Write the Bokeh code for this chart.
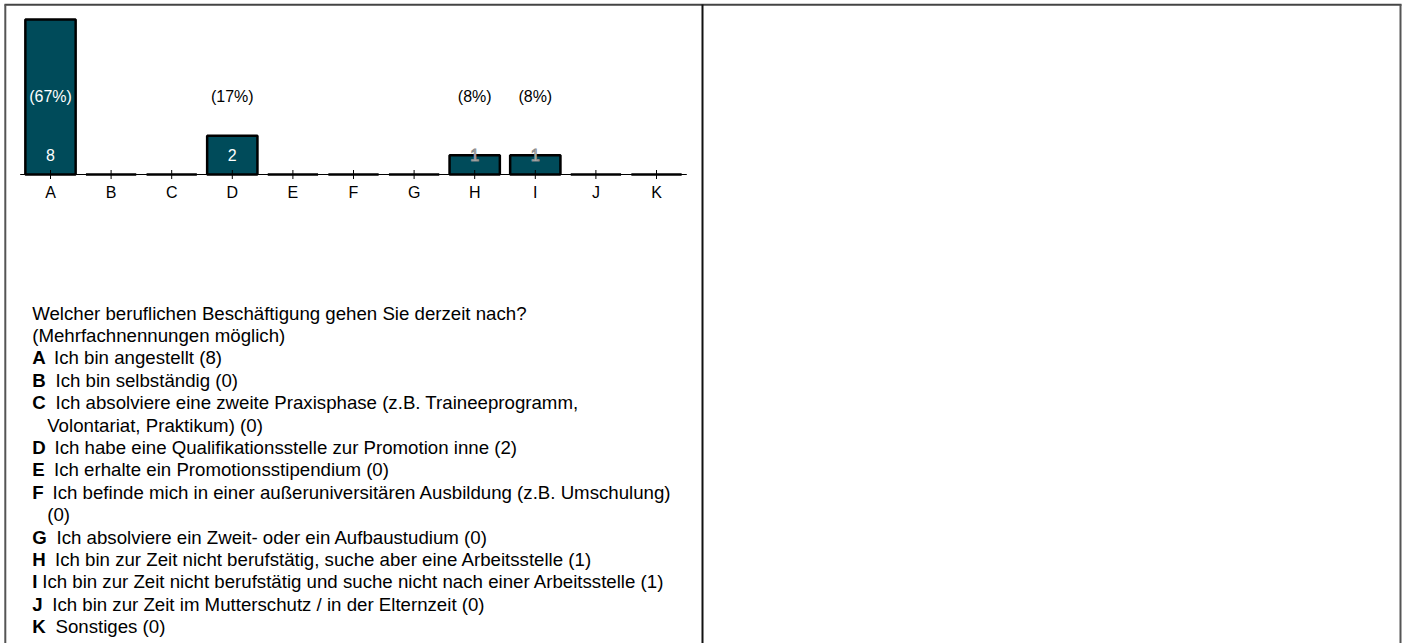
import math
from bokeh.plotting import figure
from bokeh.models import Range1d, ColumnDataSource
from bokeh.core.properties import value
from bokeh.embed import file_html
from bokeh.resources import INLINE

# ---------------- data ----------------
categories = ["A", "B", "C", "D", "E", "F", "G", "H", "I", "J", "K"]
counts = [8, 0, 0, 2, 0, 0, 0, 1, 1, 0, 0]
question = ["Welcher beruflichen Beschäftigung gehen Sie derzeit nach?",
            "(Mehrfachnennungen möglich)"]
answers = [
    "Ich bin angestellt",
    "Ich bin selbständig",
    "Ich absolviere eine zweite Praxisphase (z.B. Traineeprogramm,\nVolontariat, Praktikum)",
    "Ich habe eine Qualifikationsstelle zur Promotion inne",
    "Ich erhalte ein Promotionsstipendium",
    "Ich befinde mich in einer außeruniversitären Ausbildung (z.B. Umschulung)\n",
    "Ich absolviere ein Zweit- oder ein Aufbaustudium",
    "Ich bin zur Zeit nicht berufstätig, suche aber eine Arbeitsstelle",
    "Ich bin zur Zeit nicht berufstätig und suche nicht nach einer Arbeitsstelle",
    "Ich bin zur Zeit im Mutterschutz / in der Elternzeit",
    "Sonstiges",
]

# ---------------- layout constants ----------------
W, H = 1404, 643
PX0, PY0 = 0, 0
CAT0_X, CAT_STEP = 50.0, 60.6
BASE_Y, PX_PER_UNIT = 174.0, 19.375
FONT = value("Liberation Sans")
BAR_COLOR = "#004b5a"

x_start = (PX0 - CAT0_X) / CAT_STEP
x_end = x_start + W / CAT_STEP
y_end = (BASE_Y - PY0) / PX_PER_UNIT
y_start = y_end - H / PX_PER_UNIT

p = figure(width=W, height=H,
           x_range=Range1d(x_start, x_end), y_range=Range1d(y_start, y_end),
           output_backend="svg", toolbar_location=None,
           x_axis_location=None, y_axis_location=None,
           min_border=0, outline_line_color=None)
p.extra_x_ranges = {"px": Range1d(PX0, PX0 + W)}
p.extra_y_ranges = {"px": Range1d(PY0 + H, PY0)}
p.xgrid.visible = False
p.ygrid.visible = False

# ---------------- frame lines ----------------
p.segment(x0=[4, 4.8, 702, 1400], y0=[4.3, 4, 4, 4],
          x1=[1401, 4.8, 702, 1400], y1=[4.3, 643, 643, 643],
          line_color=["#444444", "#555555", "#111111", "#555555"], line_width=2,
          x_range_name="px", y_range_name="px")

# ---------------- chart ----------------
idx = list(range(len(categories)))
total = sum(counts)
pct = ["(%d%%)" % round(100 * c / total) if c > 0 else "" for c in counts]
pct_color = ["white" if c >= 4 else "black" for c in counts]
cnt = [str(c) if c > 0 else "" for c in counts]
cnt_outline = ["#8a8a8a" if c == 1 else None for c in counts]
src = ColumnDataSource(dict(x=idx, top=counts, cat=categories, pct=pct,
                            pct_color=pct_color, cnt=cnt, cnt_outline=cnt_outline,
                            zero=[0] * len(idx)))

p.segment(x0=[idx[0] - 0.5], x1=[idx[-1] + 0.5], y0=[0], y1=[0],
          line_color="black", line_width=1)
p.vbar(x="x", top="top", bottom=0, width=0.83, source=src,
       fill_color=BAR_COLOR, line_color="black", line_width=2.5)
p.scatter(x="x", y="zero", source=src, marker="dash", angle=math.pi / 2,
          size=9, line_color="black", line_width=1)
p.text(x="x", y="zero", text="cat", source=src, y_offset=18,
       text_align="center", text_baseline="middle",
       text_font=FONT, text_font_size="16px", text_color="black")
p.text(x="x", y="zero", text="cnt", source=src, y_offset=-20,
       text_align="center", text_baseline="middle",
       text_font=FONT, text_font_size="16px", text_color="white",
       text_outline_color="cnt_outline")
p.text(x="x", y="zero", text="pct", source=src, y_offset=-78,
       text_align="center", text_baseline="middle",
       text_font=FONT, text_font_size="16px", text_color="pct_color")

# ---------------- description text ----------------
FS = 18.67
LINE0_Y, LINE_H = 312.5, 22.4
TX = 31.7
INDENT_X = 46.7
rest_x = {"A": 53.5, "B": 55.0, "C": 55.0, "D": 54.0, "E": 53.5, "F": 52.0,
          "G": 56.0, "H": 54.5, "I": 41.7, "J": 51.7, "K": 55.0}

norm_x, norm_y, norm_t = [], [], []
bold_x, bold_y, bold_t = [], [], []
line = 0
for q in question:
    norm_x.append(TX); norm_y.append(LINE0_Y + LINE_H * line); norm_t.append(q)
    line += 1
for cat, ans, c in zip(categories, answers, counts):
    parts = [s.strip() for s in (ans + " (%d)" % c).split("\n")]
    bold_x.append(TX); bold_y.append(LINE0_Y + LINE_H * line); bold_t.append(cat)
    for j, s in enumerate(parts):
        norm_x.append(rest_x[cat] if j == 0 else INDENT_X)
        norm_y.append(LINE0_Y + LINE_H * line)
        norm_t.append(s)
        line += 1

p.text(x=norm_x, y=norm_y, text=norm_t, x_range_name="px", y_range_name="px",
       text_align="left", text_baseline="middle", text_font=FONT,
       text_font_size="%.2fpx" % FS, text_color="black")
p.text(x=bold_x, y=bold_y, text=bold_t, x_range_name="px", y_range_name="px",
       text_align="left", text_baseline="middle", text_font=FONT,
       text_font_size="%.2fpx" % FS, text_font_style="bold", text_color="black")

open("out.html", "w").write(file_html(p, INLINE))
